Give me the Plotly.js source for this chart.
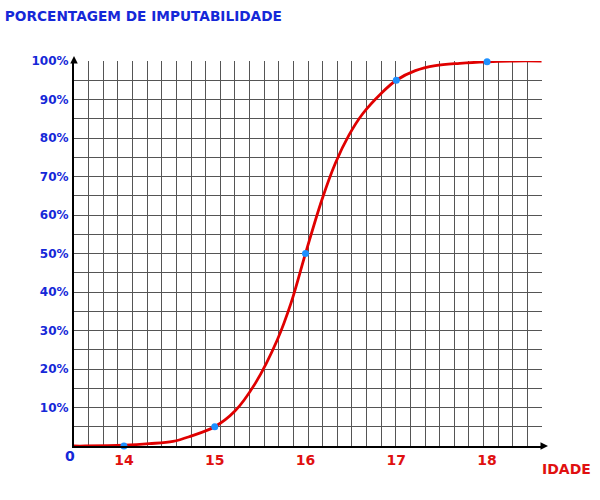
<!DOCTYPE html>
<html>
<head>
<meta charset="utf-8">
<script src="https://cdn.plot.ly/plotly-3.0.1.min.js"></script>
<style>html,body{margin:0;padding:0;background:#fff;}#chart{width:600px;height:500px;}</style>
</head>
<body>
<div id="chart"></div>
<script>
// Key points (age, % of imputability)
const pointAges = [14, 15, 16, 17, 18];
const pointPct  = [0, 5, 50, 95, 99.8];

// Curve samples
const curveAges = [13.45, 13.57, 14.0, 14.28, 14.54, 14.73, 15.0, 15.22, 15.45, 15.69, 15.84, 16.0, 16.18, 16.33, 16.48, 16.63, 16.83, 17.0, 17.21, 17.43, 17.70, 18.0, 18.3, 18.6];
const curvePct  = [0, 0, 0.2, 0.6, 1.2, 2.5, 5, 9, 16.4, 27.6, 37.1, 50, 63.9, 73.5, 80.8, 86.3, 91.5, 95, 97.5, 98.8, 99.4, 99.8, 100, 100];

const xTickVals = [14, 15, 16, 17, 18];
const xTickText = ['14', '15', '16', '17', '18'];
const yTickVals = [10, 20, 30, 40, 50, 60, 70, 80, 90, 100];
const yTickText = ['10%', '20%', '30%', '40%', '50%', '60%', '70%', '80%', '90%', '100%'];

const titleText = 'PORCENTAGEM DE IMPUTABILIDADE';
const xLabel = 'IDADE';

const xRange = [13.45, 18.605];
const nCols = 32;

const fontFam = "'Comic Sans MS', 'DejaVu Sans', sans-serif";
const blue = '#1528d8';
const red = '#e01010';

const traces = [
  {
    x: curveAges, y: curvePct, type: 'scatter', mode: 'lines',
    line: {color: '#e00000', width: 2.8, shape: 'spline', smoothing: 1},
    hoverinfo: 'skip', showlegend: false, cliponaxis: false
  },
  {
    x: pointAges, y: pointPct, type: 'scatter', mode: 'markers',
    marker: {color: '#1e90ff', size: 7}, showlegend: false, cliponaxis: false
  }
];

const layout = {
  width: 600, height: 500,
  margin: {l: 74, r: 58, t: 60.5, b: 53.5},
  paper_bgcolor: '#ffffff', plot_bgcolor: '#ffffff',
  showlegend: false,
  title: {
    text: titleText, x: 0.008, xanchor: 'left', y: 0.968, yanchor: 'middle',
    font: {family: fontFam, size: 13.7, color: blue, weight: 'bold'}
  },
  xaxis: {
    range: xRange, fixedrange: true,
    tickvals: xTickVals, ticktext: xTickText,
    showgrid: false, zeroline: false,
    showline: true, linecolor: '#000', linewidth: 2,
    ticks: '', ticklabelstandoff: 0,
    tickfont: {family: fontFam, size: 14, color: red, weight: 'bold'},
    minor: {tick0: xRange[0], dtick: (xRange[1] - xRange[0]) / nCols, showgrid: true, gridcolor: '#555555', gridwidth: 1, ticks: ''}
  },
  yaxis: {
    range: [0, 100], fixedrange: true,
    tickvals: yTickVals, ticktext: yTickText,
    showgrid: true, gridcolor: '#555555', gridwidth: 1,
    zeroline: false,
    showline: true, linecolor: '#000', linewidth: 2,
    ticks: '', ticklabelstandoff: 1,
    tickfont: {family: fontFam, size: 12, color: blue, weight: 'bold'},
    minor: {dtick: 5, showgrid: true, gridcolor: '#555555', gridwidth: 1, ticks: ''}
  },
  annotations: [
    {xref: 'paper', yref: 'paper', x: 0, y: 0, xanchor: 'right', yanchor: 'top', xshift: 3, yshift: 0,
     text: '0', showarrow: false, font: {family: fontFam, size: 14, color: blue, weight: 'bold'}},
    {xref: 'paper', yref: 'paper', x: 1, y: 0, xanchor: 'center', yanchor: 'middle', xshift: 24, yshift: -23,
     text: xLabel, showarrow: false, font: {family: fontFam, size: 14, color: red, weight: 'bold'}},
    {xref: 'paper', yref: 'paper', x: 0, y: 1, ax: 0, ay: 6, yshift: 5, text: '', showarrow: true,
     arrowhead: 2, arrowsize: 1, arrowwidth: 1.5, arrowcolor: '#000'},
    {xref: 'paper', yref: 'paper', x: 1, y: 0, ax: -6, ay: 0, xshift: 6, text: '', showarrow: true,
     arrowhead: 2, arrowsize: 1, arrowwidth: 1.5, arrowcolor: '#000'}
  ]
};

Plotly.newPlot('chart', traces, layout, {displayModeBar: false, staticPlot: true});
</script>
</body>
</html>
